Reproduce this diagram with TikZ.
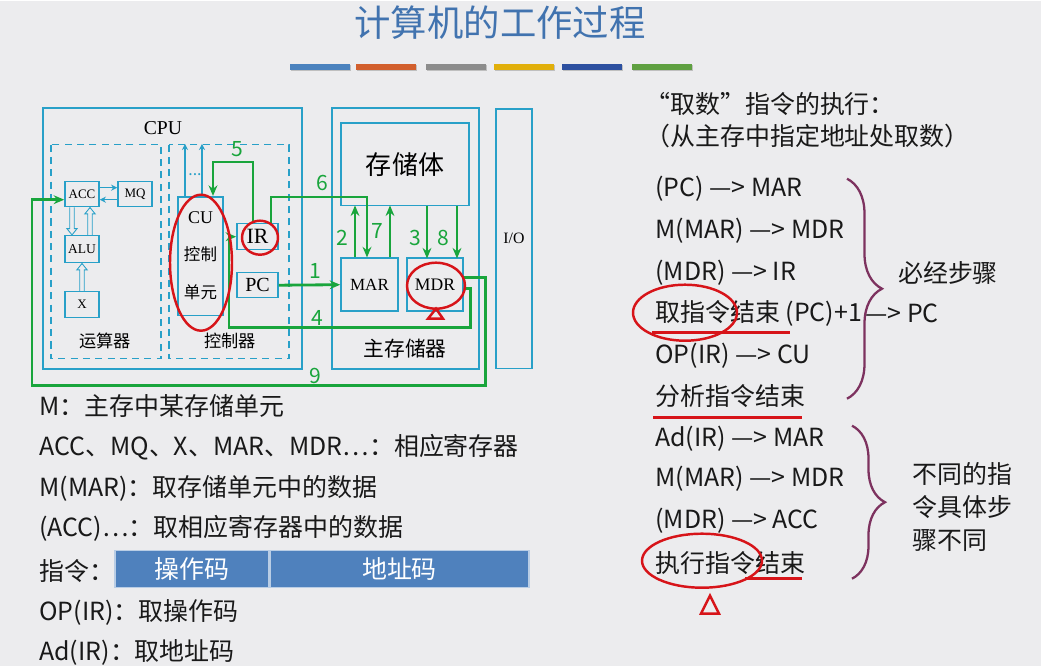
\documentclass[tikz,border=0pt]{standalone}
\usepackage{fontspec}
\usepackage{xcolor}
\usetikzlibrary{arrows.meta,decorations.pathreplacing,calc}

\setmainfont{Noto Sans CJK SC}
\newfontfamily\timesen{Liberation Serif}

\definecolor{bgcol}{RGB}{236,236,238}
\definecolor{boxcyan}{RGB}{40,160,200}
\definecolor{pathgreen}{RGB}{25,165,60}
\definecolor{titleblue}{RGB}{65,115,175}
\definecolor{codeblue}{RGB}{79,129,189}
\definecolor{bracecol}{RGB}{125,50,95}
\definecolor{markred}{RGB}{215,20,25}
\definecolor{textcol}{RGB}{25,25,25}
\definecolor{barblue}{RGB}{75,130,190}
\definecolor{barorange}{RGB}{210,95,45}
\definecolor{bargray}{RGB}{140,140,140}
\definecolor{baryellow}{RGB}{225,175,10}
\definecolor{bardark}{RGB}{45,80,160}
\definecolor{bargreen}{RGB}{95,160,65}

% hollow vertical arrow from #1 to #2
\newcommand{\hollowv}[2]{%
  \draw[boxcyan, line width=0.5pt, fill=bgcol] let \p1=#1, \p2=#2, \n1={sign(\y2-\y1)} in
    (\x1-1.3pt,\y1) -- (\x1-1.3pt,\y2-\n1*3.6pt) -- (\x1-2.9pt,\y2-\n1*3.6pt) -- (\x1,\y2)
    -- (\x1+2.9pt,\y2-\n1*3.6pt) -- (\x1+1.3pt,\y2-\n1*3.6pt) -- (\x1+1.3pt,\y1);
}

\tikzset{
  reg/.style={draw=boxcyan, line width=0.9pt, fill=bgcol, inner sep=0pt},
  cpuframe/.style={draw=boxcyan, line width=1pt},
  dframe/.style={draw=boxcyan, line width=0.8pt, dash pattern=on 4pt off 3pt},
  ctlarrow/.style={draw=boxcyan, line width=0.6pt, -{Stealth[length=3.5pt,width=3.5pt]}},
  gpath/.style={draw=pathgreen, line width=1.6pt, -{Stealth[length=6pt,width=5pt]}},
  gnum/.style={text=pathgreen, font=\fontsize{12pt}{14pt}\selectfont},
  body/.style={text=textcol, anchor=west, inner sep=0pt, font=\fontsize{14.2pt}{17pt}\selectfont},
  codebox/.style={fill=codeblue, draw=white!60!codeblue, line width=0.6pt, text=white,
    minimum height=0.74cm, inner sep=0pt, font=\fontsize{14.2pt}{17pt}\selectfont},
  redmark/.style={draw=markred, line width=1.4pt},
}

\begin{document}
\begin{tikzpicture}[x=0.02cm, y=-0.02cm]
  % background and page size
  \fill[bgcol] (0,0) rectangle (1041,665);

  % title and colour bars
  \node[text=titleblue, font=\fontsize{20.7pt}{24pt}\selectfont] (title) at (500,22) {计算机的工作过程};
  \foreach \xa/\col in {290/barblue, 356/barorange, 426/bargray, 494/baryellow, 562/bardark, 632/bargreen} {
    \fill[black!25] (\xa+1,64) rectangle (\xa+61,70);
    \fill[\col] (\xa,63) rectangle (\xa+60,69);
  }

  % CPU
  \draw[cpuframe] (43,107) rectangle (302,368);
  \node[font=\timesen\fontsize{11.2pt}{13pt}\selectfont] (cpu) at (163,127) {CPU};
  \draw[dframe] (51,144) rectangle (161,358);
  \draw[dframe] (169,144) rectangle (289,358);
  \node[font=\fontsize{9.8pt}{11pt}\selectfont] (alulbl) at (105,340) {运算器};
  \node[font=\fontsize{9.8pt}{11pt}\selectfont] (ctllbl) at (230,340) {控制器};

  \node[reg, minimum width=0.68cm, minimum height=0.5cm, font=\timesen\fontsize{7.4pt}{9pt}\selectfont] (acc) at (82,193.5) {ACC};
  \node[reg, minimum width=0.68cm, minimum height=0.5cm, font=\timesen\fontsize{7.4pt}{9pt}\selectfont] (mq) at (135,193.5) {MQ};
  \node[reg, minimum width=0.68cm, minimum height=0.54cm, font=\timesen\fontsize{7.7pt}{9pt}\selectfont] (alu) at (82,248.5) {ALU};
  \node[reg, minimum width=0.68cm, minimum height=0.52cm, font=\timesen\fontsize{7.4pt}{9pt}\selectfont] (x) at (82,304) {X};

  \node[reg, minimum width=0.9cm, minimum height=2.38cm] (cu) at (200.5,255.5) {};
  \node[font=\timesen\fontsize{10.2pt}{12pt}\selectfont] (cutxt) at (200.5,217) {CU};
  \node[font=\fontsize{9.4pt}{11pt}\selectfont] (cuctl) at (200.5,254) {控制};
  \node[font=\fontsize{9.4pt}{11pt}\selectfont] (cuunit) at (200.5,292) {单元};
  \node[reg, minimum width=0.82cm, minimum height=0.52cm, font=\timesen\fontsize{12.4pt}{14pt}\selectfont] (ir) at (257.5,236) {IR};
  \node[reg, minimum width=0.82cm, minimum height=0.5cm, font=\timesen\fontsize{11.4pt}{13pt}\selectfont] (pc) at (257.5,284.5) {PC};
  \node[text=boxcyan, font=\fontsize{9pt}{10pt}\selectfont] (dots) at (195,174) {...};

  % main memory and I/O
  \draw[cpuframe] (332,107) rectangle (479,368);
  \node[reg, minimum width=2.56cm, minimum height=1.66cm, font=\fontsize{14.8pt}{17pt}\selectfont] (store) at (405,163.5) {存储体};
  \node[reg, minimum width=1.14cm, minimum height=1.06cm, font=\timesen\fontsize{9.7pt}{11pt}\selectfont] (mar) at (369.5,284) {MAR};
  \node[reg, minimum width=1.12cm, minimum height=1.06cm, font=\timesen\fontsize{10pt}{12pt}\selectfont] (mdr) at (435,284) {MDR};
  \node[font=\fontsize{11.8pt}{13pt}\selectfont] (memlbl) at (405,348) {主存储器};
  \node[reg, minimum width=0.72cm, minimum height=5.2cm, fill=none, font=\timesen\fontsize{9pt}{11pt}\selectfont] (io) at (514,238) {I/O};

  % inner links
  \draw[ctlarrow] ([yshift=0.13cm]acc.east) -- ([yshift=0.13cm]mq.west);
  \draw[ctlarrow] ([yshift=-0.11cm]mq.west) -- ([yshift=-0.11cm]acc.east);
  \hollowv{([xshift=-0.2cm]acc.south)}{([xshift=-0.2cm]alu.north)}
  \hollowv{([xshift=0.16cm]alu.north)}{([xshift=0.16cm]acc.south)}
  \hollowv{(x.north)}{(alu.south)}
  \draw[ctlarrow] ([xshift=-0.31cm]cu.north) -- ++(0,-52);
  \draw[ctlarrow] ([xshift=0.03cm]cu.north) -- ++(0,-52);

  % numbered steps
  \draw[gpath] (pc.east) -- (mar.west);
  \node[gnum] (n1) at (315,270) {1};
  \draw[gpath] ([xshift=-0.29cm]mar.north) -- ++(0,-52);
  \node[gnum] (n2) at (342,237) {2};
  \draw[gpath] ([xshift=0.44cm]store.south) -- ++(0,52);
  \node[gnum] (n3) at (415,237) {3};
  \coordinate (irturn) at (229,327);
  \draw[gpath] ([yshift=-0.08cm]mdr.east) -- ++(7,0) |- (irturn) |- (ir.west);
  \node[gnum] (n4) at (317,317) {4};
  \draw[gpath] ([xshift=-0.09cm]ir.north) -- ++(0,-61) -| ([xshift=0.25cm]cu.north);
  \node[gnum] (n5) at (237,148) {5};
  \draw[gpath] ([xshift=0.27cm]ir.north) -- ++(0,-26) -| ([xshift=-0.05cm]mar.north);
  \node[gnum] (n6) at (322,182) {6};
  \draw[gpath] ([xshift=0.41cm]mar.north) -- ++(0,-52);
  \node[gnum] (n7) at (377,230) {7};
  \draw[gpath] ([xshift=1.04cm]store.south) -- ++(0,52);
  \node[gnum] (n8) at (443,237) {8};
  \coordinate (accturn) at (32,385);
  \draw[gpath] ([yshift=0.14cm]mdr.east) -- ++(22,0) |- (accturn) |- ([yshift=-0.11cm]acc.west);
  \node[gnum] (n9) at (315,375) {9};

  % notes below the diagram
  \node[body] (nm) at (39,405) {M：主存中某存储单元};
  \node[body] (nregs) at (39,447) {ACC、MQ、X、MAR、MDR…：相应寄存器};
  \node[body] (nmmar) at (39,488) {M(MAR)：取存储单元中的数据};
  \node[body] (nacc) at (39,528) {(ACC)…：取相应寄存器中的数据};
  \node[body] (ninstr) at (39,570) {指令：};
  \node[codebox, minimum width=3.08cm] (opcode) at (192,568.5) {操作码};
  \node[codebox, minimum width=5.18cm] (addr) at (399.5,568.5) {地址码};
  \node[body] (nop) at (39,612) {OP(IR)：取操作码};
  \node[body] (nad) at (39,652) {Ad(IR)：取地址码};

  % steps on the right
  \node[body] (head) at (645,103) {“取数”指令的执行：};
  \node[body] (sub) at (645,135) {（从主存中指定地址处取数）};
  \node[body] (s1) at (655,188) {(PC) —> MAR};
  \node[body] (s2) at (655,230) {M(MAR) —> MDR};
  \node[body] (s3) at (655,272) {(MDR) —> IR};
  \node[body] (s4) at (655,313) {取指令结束 (PC)+1};
  \node[body] (s4b) at (865,313) {—> PC};
  \node[body] (s5) at (655,355) {OP(IR) —> CU};
  \node[body] (s6) at (655,395) {分析指令结束};
  \node[body] (e1) at (655,438) {Ad(IR) —> MAR};
  \node[body] (e2) at (655,478) {M(MAR) —> MDR};
  \node[body] (e3) at (655,520) {(MDR) —> ACC};
  \node[body] (e4) at (655,562) {执行指令结束};

  \draw[bracecol, line width=1.3pt, decorate, decoration={brace, amplitude=0.7cm}] (847,178) -- (847,398);
  \node[text=textcol, font=\fontsize{14.2pt}{17pt}\selectfont] (must) at (948,272) {必经步骤};
  \draw[bracecol, line width=1.3pt, decorate, decoration={brace, amplitude=0.66cm}] (852,425) -- (852,578);
  \node[body, align=left, font=\fontsize{14.2pt}{18.7pt}\selectfont] (diff) at (912,506.5) {不同的指\\令具体步\\骤不同};

  % red hand marks
  \draw[redmark] (201,262) ellipse [x radius=0.62cm, y radius=1.36cm];
  \draw[redmark] (260,237) ellipse [x radius=0.36cm, y radius=0.34cm];
  \draw[redmark] (436,285) ellipse [x radius=0.58cm, y radius=0.46cm];
  \draw[redmark] (428,318) -- (436,308) -- (443,318) -- cycle;
  \draw[redmark] (685,312) ellipse [x radius=1.04cm, y radius=0.56cm];
  \draw[redmark] (652,332) -- (790,332);
  \draw[redmark] (653,417) -- (802,417);
  \draw[redmark] (702,560) ellipse [x radius=1.2cm, y radius=0.54cm];
  \draw[redmark] (745,578) -- (802,578);
  \draw[redmark] (701,613) -- (710,595) -- (719,613) -- cycle;
\end{tikzpicture}
\end{document}
